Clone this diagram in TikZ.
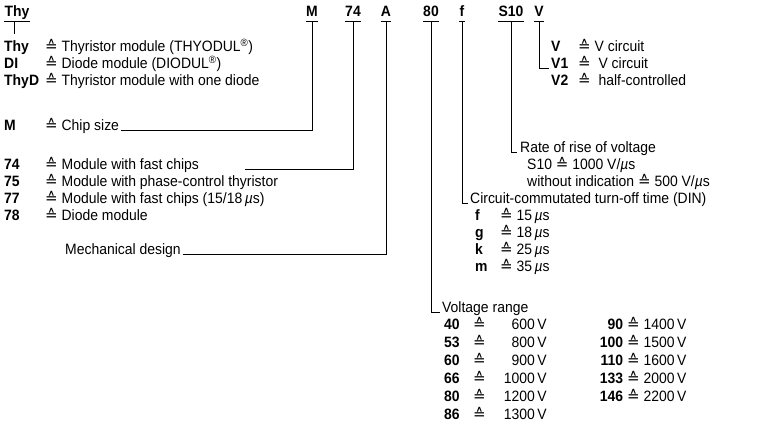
\documentclass[tikz,border=0pt]{standalone}
\usepackage{fontspec}
\setmainfont{Liberation Sans}[FakeStretch=0.93]
\newfontfamily\symfont{DejaVu Sans}
\newcommand{\corr}{{\symfont ≙}}
\newcommand{\mus}{\,\textit{µ}s}
\newcommand{\lcode}[2][41pt]{\makebox[#1][l]{\bfseries #2}}

\begin{document}
\begin{tikzpicture}[x=1pt,y=-1pt,
    font=\fontsize{15}{17}\selectfont,
    head/.style={font=\fontsize{15}{17}\selectfont\bfseries,inner sep=0pt,text depth=4pt,anchor=base},
    txt/.style={inner sep=0pt,anchor=base west},
    rule/.style={line width=1.2pt},
    link/.style={line width=1pt}
  ]
    \useasboundingbox[fill=white] (0,0) rectangle (760,427);

    % type designation
    \node[head] (hThy) at (17,17) {Thy};
    \node[head] (hM) at (312,17) {M};
    \node[head] (h74) at (353,17) {74};
    \node[head] (hA) at (386,17) {A};
    \node[head] (h80) at (431,17) {80};
    \node[head] (hf) at (462,17) {f};
    \node[head] (hS) at (511,17) {S10};
    \node[head] (hV) at (539,17) {V};
    \draw[rule] (hThy.south west) -- (hThy.south east);
    \draw[rule] (hM.south west) -- (hM.south east);
    \draw[rule] (h74.south west) -- (h74.south east);
    \draw[rule] (hA.south west) -- (hA.south east);
    \draw[rule] (h80.south west) -- (h80.south east);
    \draw[rule] (hf.south west) -- (hf.south east);
    \draw[rule] (hS.south west) -- (hS.south east);
    \draw[rule] (hV.south west) -- (hV.south east);

    % left column
    \node[txt] (rThy) at (4,52) {\lcode{Thy}\corr\ Thyristor module (THYODUL\textsuperscript{®})};
    \node[txt] (rDI) at (4,69) {\lcode{DI}\corr\ Diode module (DIODUL\textsuperscript{®})};
    \node[txt] (rThyD) at (4,86) {\lcode{ThyD}\corr\ Thyristor module with one diode};
    \node[txt] (chip) at (4,131) {\lcode{M}\corr\ Chip size};
    \node[txt] (r74) at (4,170) {\lcode{74}\corr\ Module with fast chips};
    \node[txt] (r75) at (4,187) {\lcode{75}\corr\ Module with phase-control thyristor};
    \node[txt] (r77) at (4,204) {\lcode{77}\corr\ Module with fast chips (15/18\mus)};
    \node[txt] (r78) at (4,221) {\lcode{78}\corr\ Diode module};
    \node[txt] (mech) at (65,255) {Mechanical design};
    \coordinate (c74) at (245,170);
    \coordinate (cThy) at (14,34);

    % right column
    \node[txt] (rV) at (551,52) {\lcode[27pt]{V}\corr\ V circuit};
    \node[txt] (rV1) at (551,69) {\lcode[27pt]{V1}\corr\ \ V circuit};
    \node[txt] (rV2) at (551,86) {\lcode[27pt]{V2}\corr\ \ half-controlled};
    \node[txt] (rate) at (520,153) {Rate of rise of voltage};
    \node[txt] (s10) at (527,170) {S10 \corr\ 1000 V/\textit{µ}s};
    \node[txt] (noind) at (527,187) {without indication \corr\ 500 V/\textit{µ}s};
    \node[txt] (comm) at (470,204) {Circuit-commutated turn-off time (DIN)};
    \node[txt] (tf) at (475,221) {\lcode[25pt]{f}\corr\ 15\mus};
    \node[txt] (tg) at (475,238) {\lcode[25pt]{g}\corr\ 18\mus};
    \node[txt] (tk) at (475,255) {\lcode[25pt]{k}\corr\ 25\mus};
    \node[txt] (tm) at (475,272) {\lcode[25pt]{m}\corr\ 35\mus};
    \node[txt] (volt) at (442,313) {Voltage range};
    \node[txt] (u40) at (444,330) {\lcode[29pt]{40}\corr\makebox[61pt][r]{600\,V}};
    \node[txt] (u53) at (444,348) {\lcode[29pt]{53}\corr\makebox[61pt][r]{800\,V}};
    \node[txt] (u60) at (444,366) {\lcode[29pt]{60}\corr\makebox[61pt][r]{900\,V}};
    \node[txt] (u66) at (444,384) {\lcode[29pt]{66}\corr\makebox[61pt][r]{1000\,V}};
    \node[txt] (u80) at (444,401) {\lcode[29pt]{80}\corr\makebox[61pt][r]{1200\,V}};
    \node[txt] (u86) at (444,419) {\lcode[29pt]{86}\corr\makebox[61pt][r]{1300\,V}};
    \node[txt] (u90) at (590,330) {\makebox[33pt][r]{\bfseries 90}\ \corr\ 1400\,V};
    \node[txt] (u100) at (590,348) {\makebox[33pt][r]{\bfseries 100}\ \corr\ 1500\,V};
    \node[txt] (u110) at (590,366) {\makebox[33pt][r]{\bfseries 110}\ \corr\ 1600\,V};
    \node[txt] (u133) at (590,384) {\makebox[33pt][r]{\bfseries 133}\ \corr\ 2000\,V};
    \node[txt] (u146) at (590,401) {\makebox[33pt][r]{\bfseries 146}\ \corr\ 2200\,V};

    % connectors
    \draw[link] (hThy.south -| cThy) -- (cThy);
    \draw[link] (hM.south) |- ([xshift=2pt]chip.base east);
    \draw[link] (h74.south) |- (c74);
    \draw[link] (hA.south) |- ([xshift=2pt]mech.base east);
    \draw[link] (h80.south) |- ([xshift=-2pt]volt.base west);
    \draw[link] (hf.south) |- ([xshift=-2pt]comm.base west);
    \draw[link] (hS.south) |- ([xshift=-3pt]rate.base west);
    \draw[link] (hV.south) |- ([xshift=-2pt]rV1.base west);
  \end{tikzpicture}
\end{document}
